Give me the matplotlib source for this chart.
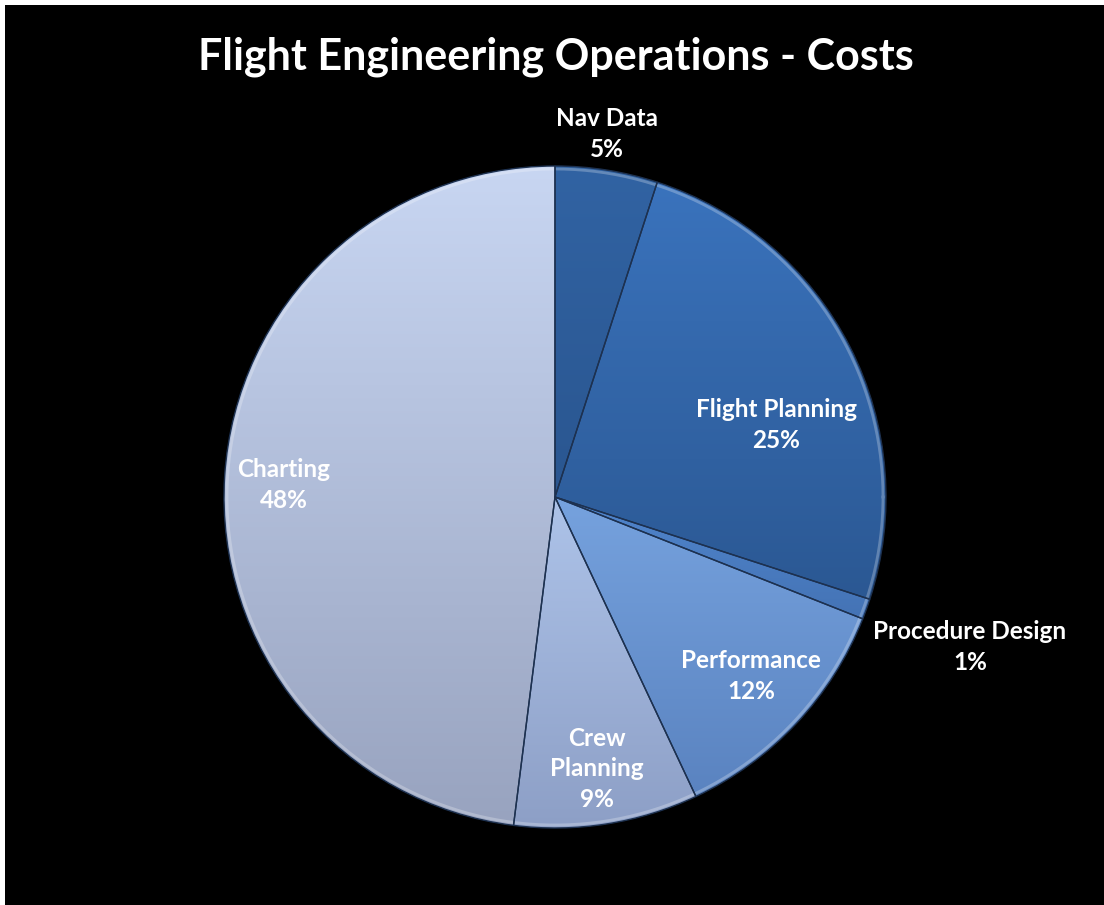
import numpy as np
import matplotlib.pyplot as plt
from matplotlib.colors import LinearSegmentedColormap
from matplotlib.patches import Rectangle

plt.rcParams["font.family"] = ["Lato", "DejaVu Sans"]

W, H = 1104, 905

CATEGORIES = ["Nav Data", "Flight Planning", "Procedure Design",
              "Performance", "Crew\nPlanning", "Charting"]
SHARES = [5, 25, 1, 12, 9, 48]

# vertical shading per slice: colour at the top and at the bottom
TOP_COLORS = ["#3163a3", "#3a73bd", "#5085cc", "#76a2de", "#adc3e9", "#c8d6f2"]
BOTTOM_COLORS = ["#2a5690", "#2b5893", "#4473b5", "#5a83c0", "#8d9fc6", "#98a3bf"]

# label anchor points in pixels (x, y from the top)
LABEL_XY = [(607, 134), (776, 425), (970, 647), (751, 676), (597, 769), (284, 485)]

CENTER = (555, H - 497)
RADIUS = 331

fig = plt.figure(figsize=(W / 100, H / 100), dpi=100, facecolor="white")
fig.patches.append(Rectangle((5 / W, 0), 1, 1 - 5 / H, transform=fig.transFigure,
                             facecolor="black", edgecolor="none", zorder=-1))
ax = fig.add_axes([0, 0, 1, 1])
ax.patch.set_alpha(0)

wedges, _ = ax.pie(SHARES, startangle=90, counterclock=False, center=CENTER,
                   radius=RADIUS, colors=BOTTOM_COLORS,
                   wedgeprops=dict(edgecolor="#1d3150", linewidth=1.0))

for w, c_top, c_bot in zip(wedges, TOP_COLORS, BOTTOM_COLORS):
    bb = w.get_path().get_extents()
    cmap = LinearSegmentedColormap.from_list("shade", [c_bot, c_top])
    grad = np.linspace(1, 0, 256).reshape(-1, 1)
    img = ax.imshow(grad, cmap=cmap, extent=(bb.x0, bb.x1, bb.y0, bb.y1),
                    aspect="auto", origin="upper", zorder=1, interpolation="bicubic")
    img.set_clip_path(w)
    w.set_facecolor("none")
    w.set_zorder(3)

# thin highlight around the rim
theta = np.linspace(0, 2 * np.pi, 400)
ax.plot(CENTER[0] + (RADIUS - 3) * np.cos(theta), CENTER[1] + (RADIUS - 3) * np.sin(theta),
        color="white", alpha=0.25, lw=2, zorder=2)

for name, share, (x, y) in zip(CATEGORIES, SHARES, LABEL_XY):
    ax.text(x, H - y, f"{name}\n{share}%", ha="center", va="center", color="white",
            fontsize=17.5, fontweight="bold", linespacing=1.4, zorder=5)

ax.text(556, H - 57, "Flight Engineering Operations - Costs", ha="center", va="center",
        color="white", fontsize=31, fontweight="bold", zorder=5)

ax.set_xlim(0, W)
ax.set_ylim(0, H)
ax.set_aspect("equal")
ax.axis("off")

fig.savefig("out.png", dpi=100, facecolor=fig.get_facecolor())
